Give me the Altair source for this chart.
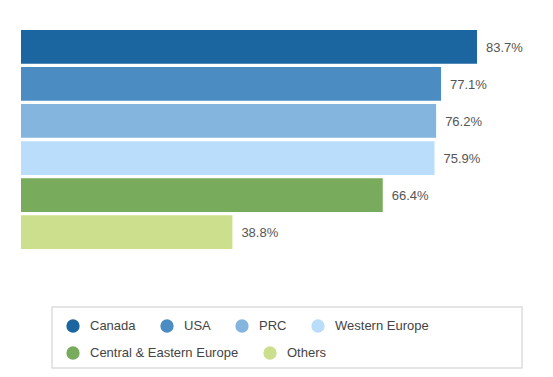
import altair as alt
import pandas as pd

categories = ["Canada", "USA", "PRC", "Western Europe", "Central & Eastern Europe", "Others"]
values = [83.7, 77.1, 76.2, 75.9, 66.4, 38.8]
labels = ["83.7%", "77.1%", "76.2%", "75.9%", "66.4%", "38.8%"]
colors = ["#1B65A1", "#4B8DC3", "#83B5DF", "#B9DDFB", "#78AB5B", "#CCDF8D"]

# legend rows as in the reference
row1 = categories[:4]
row2 = categories[4:]

df = pd.DataFrame({"region": categories, "value": values, "label": labels})

FONT = "Liberation Sans"

x = alt.X("value:Q", axis=None, scale=alt.Scale(domain=[0, 83.7], nice=False, zero=True))
y = alt.Y("region:N", axis=None, sort=categories,
          scale=alt.Scale(paddingInner=0.09, paddingOuter=0))


def legend(ly):
    return alt.Legend(
        title=None,
        orient="none",
        legendX=45,
        legendY=ly,
        direction="horizontal",
        columns=4,
        symbolType="circle",
        symbolSize=177,
        symbolStrokeWidth=0,
        symbolOpacity=1,
        labelFont=FONT,
        labelFontSize=13,
        labelColor="#444444",
        labelOffset=10,
        labelLimit=300,
        columnPadding=24,
        padding=0,
    )


bars1 = alt.Chart(df).transform_filter(
    alt.FieldOneOfPredicate(field="region", oneOf=row1)
).mark_bar().encode(
    x=x,
    y=y,
    color=alt.Color("region:N", sort=row1,
                    scale=alt.Scale(domain=row1, range=colors[:4]),
                    legend=legend(289)),
)

bars2 = alt.Chart(df).transform_filter(
    alt.FieldOneOfPredicate(field="region", oneOf=row2)
).mark_bar().encode(
    x=x,
    y=y,
    fill=alt.Fill("region:N", sort=row2,
                  scale=alt.Scale(domain=row2, range=colors[4:]),
                  legend=legend(316)),
)

text = alt.Chart(df).mark_text(
    align="left", baseline="middle", dx=9, dy=1, font=FONT, fontSize=13, color="#555555"
).encode(x=x, y=y, text="label:N")

frame = alt.Chart(alt.Data(values=[{"a": 1}])).mark_rect(
    fill="white", stroke="#DDDDDD", strokeWidth=1.5
).encode(
    x=alt.value(31), x2=alt.value(501), y=alt.value(277), y2=alt.value(338)
)

chart = alt.layer(frame, bars1, bars2, text).resolve_scale(
    color="independent", fill="independent"
).properties(
    width=456,
    height=219,
    padding={"left": 21, "top": 30, "right": 76, "bottom": 128},
    autosize=alt.AutoSizeParams(type="none"),
    background="white",
).configure_view(stroke=None)

chart.save("out.html", embed_options={"renderer": "svg", "actions": False})
